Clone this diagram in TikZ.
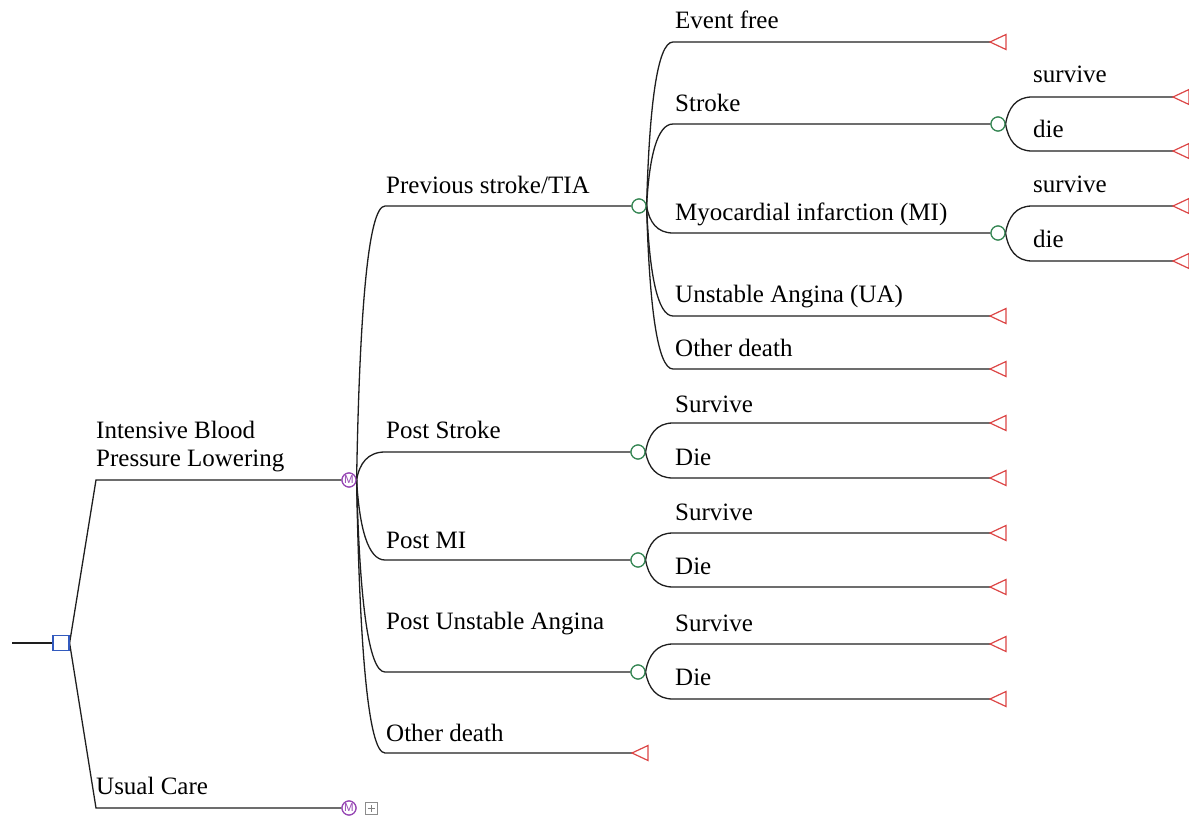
\documentclass[tikz,border=0pt]{standalone}
\usepackage{fontspec}
\setmainfont{Liberation Serif}
\newfontfamily\msans{Liberation Sans}
\usetikzlibrary{calc}
\definecolor{chgreen}{RGB}{55,135,85}
\definecolor{mkpurple}{RGB}{150,70,180}
\definecolor{decblue}{RGB}{50,90,190}
\definecolor{termred}{RGB}{220,70,70}
\definecolor{lncol}{RGB}{30,30,30}
\tikzset{
 ln/.style={draw=lncol, line width=1.3pt},
 branch/.style={to path={let \p1=(\tikztostart), \p2=(\tikztotarget) in
   .. controls ({\x1+0.1*(\x2-\x1)},{\y1+0.6*(\y2-\y1)}) and ({\x1+0.4*(\x2-\x1)},{\y2}) .. (\tikztotarget)}},
 chance/.style={circle, draw=chgreen, line width=1.2pt, minimum size=14pt, inner sep=0pt, fill=white},
 markov/.style={circle, draw=mkpurple, line width=1.2pt, minimum size=14pt, inner sep=0pt, fill=white,
   text=mkpurple, font=\msans\fontsize{11.5}{11.5}\selectfont},
 decision/.style={rectangle, draw=decblue, line width=1.2pt, minimum width=16pt, minimum height=15pt, inner sep=0pt, fill=white},
 termtri/.style={draw=termred, line width=1.2pt},
 plusbox/.style={rectangle, draw=black!45, line width=0.8pt, minimum size=12pt, inner sep=0pt,
   path picture={\draw[black!50, line width=0.8pt]
     ([xshift=-3.5pt]path picture bounding box.center) -- ([xshift=3.5pt]path picture bounding box.center)
     ([yshift=-3.5pt]path picture bounding box.center) -- ([yshift=3.5pt]path picture bounding box.center);}},
 lbl/.style={anchor=base west, inner sep=0pt, font=\fontsize{25}{28}\selectfont},
}
\begin{document}
\begin{tikzpicture}[x=1pt,y=-1pt]
\useasboundingbox (0,0) rectangle (1189,816);
% ---------- coordinates ----------
\coordinate (root) at (12,643);
\coordinate (a1) at (96,480);
\coordinate (a2) at (96,808);
\foreach \n/\y in {1/206,2/452,3/560,4/672,5/753} {\coordinate (b\n) at (385,\y);}
\foreach \n/\y in {1/42,2/124,3/233,4/316,5/369} {\coordinate (d\n) at (673,\y);}
\foreach \n/\y in {1/97,2/151,3/206,4/261} {\coordinate (e\n) at (1032,\y);}
\foreach \n/\y in {1/423,2/478,3/533,4/587,5/644,6/699} {\coordinate (f\n) at (673,\y);}
% terminal tips
\coordinate (tb5) at (632,753);
\coordinate (td1) at (990,42);
\coordinate (td4) at (990,316);
\coordinate (td5) at (990,369);
\foreach \n/\y in {1/97,2/151,3/206,4/261} {\coordinate (te\n) at (1173,\y);}
\foreach \n/\y in {1/423,2/478,3/533,4/587,5/644,6/699} {\coordinate (tf\n) at (990,\y);}
% ---------- nodes ----------
\node[decision] (dec) at (61,643) {};
\node[markov] (m1) at (349,480) {M};
\node[markov] (m2) at (349,808) {M};
\node[plusbox] (plus) at (371,808) {};
\node[chance] (c1) at (639,206) {};
\node[chance] (c2) at (638,452) {};
\node[chance] (c3) at (638,560) {};
\node[chance] (c4) at (638,672) {};
\node[chance] (s1) at (998,124) {};
\node[chance] (s2) at (998,233) {};
% ---------- connectors ----------
\draw[ln] (root) -- (dec);
\draw[ln] (dec.east) -- (a1) -- (m1);
\draw[ln] (dec.east) -- (a2) -- (m2);
\draw[ln] (m1.east) to[branch] (b1) -- (c1);
\draw[ln] (m1.east) to[branch] (b2) -- (c2);
\draw[ln] (m1.east) to[branch] (b3) -- (c3);
\draw[ln] (m1.east) to[branch] (b4) -- (c4);
\draw[ln] (m1.east) to[branch] (b5) -- (tb5);
\draw[ln] (c1.east) to[branch] (d1) -- (td1);
\draw[ln] (c1.east) to[branch] (d2) -- (s1);
\draw[ln] (c1.east) to[branch] (d3) -- (s2);
\draw[ln] (c1.east) to[branch] (d4) -- (td4);
\draw[ln] (c1.east) to[branch] (d5) -- (td5);
\draw[ln] (s1.east) to[branch] (e1) -- (te1);
\draw[ln] (s1.east) to[branch] (e2) -- (te2);
\draw[ln] (s2.east) to[branch] (e3) -- (te3);
\draw[ln] (s2.east) to[branch] (e4) -- (te4);
\draw[ln] (c2.east) to[branch] (f1) -- (tf1);
\draw[ln] (c2.east) to[branch] (f2) -- (tf2);
\draw[ln] (c3.east) to[branch] (f3) -- (tf3);
\draw[ln] (c3.east) to[branch] (f4) -- (tf4);
\draw[ln] (c4.east) to[branch] (f5) -- (tf5);
\draw[ln] (c4.east) to[branch] (f6) -- (tf6);
% redraw nodes on top
\node[decision] at (dec) {};
\node[markov] at (m1) {M};
\node[markov] at (m2) {M};
\foreach \c in {c1,c2,c3,c4,s1,s2} {\node[chance] at (\c) {};}
% ---------- terminal triangles ----------
\foreach \t in {tb5,td1,td4,td5,te1,te2,te3,te4,tf1,tf2,tf3,tf4,tf5,tf6}
  {\draw[termtri] (\t) -- ++(16,-7.5) -- ++(0,15) -- cycle;}
% ---------- labels ----------
\node[lbl, align=left] (l0) at (96,466) {Intensive Blood\\Pressure Lowering};
\node[lbl] (l0b) at (96,794) {Usual Care};
\node[lbl] (l1) at (386,193) {Previous stroke/TIA};
\node[lbl] (l2) at (386,438) {Post Stroke};
\node[lbl] (l3) at (386,548) {Post MI};
\node[lbl] (l4) at (386,629) {Post Unstable Angina};
\node[lbl] (l5) at (386,741) {Other death};
\node[lbl] (k1) at (675,29) {Event free};
\node[lbl] (k2) at (675,111) {Stroke};
\node[lbl] (k3) at (675,220) {Myocardial infarction (MI)};
\node[lbl] (k4) at (675,302) {Unstable Angina (UA)};
\node[lbl] (k5) at (675,356) {Other death};
\node[lbl] (j1) at (1033,83) {survive};
\node[lbl] (j2) at (1033,137) {die};
\node[lbl] (j3) at (1033,192) {survive};
\node[lbl] (j4) at (1033,247) {die};
\node[lbl] (g1) at (675,412) {Survive};
\node[lbl] (g2) at (675,465) {Die};
\node[lbl] (g3) at (675,520) {Survive};
\node[lbl] (g4) at (675,574) {Die};
\node[lbl] (g5) at (675,631) {Survive};
\node[lbl] (g6) at (675,685) {Die};
\end{tikzpicture}
\end{document}
